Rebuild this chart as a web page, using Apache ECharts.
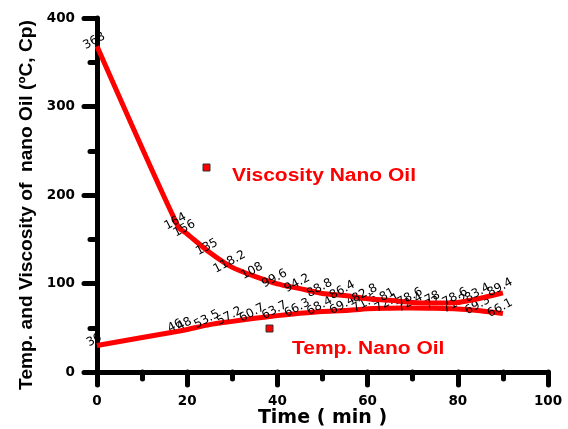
<!DOCTYPE html>
<html>
<head>
<meta charset="utf-8">
<script src="https://cdn.jsdelivr.net/npm/echarts@6/dist/echarts.min.js"></script>
<style>
  html, body { margin: 0; padding: 0; background: #fff; }
  #chart { width: 568px; height: 429px; }
</style>
</head>
<body>
<div id="chart"></div>
<script>
// Sampling times (min)
const times = [0, 18, 20, 25, 30, 35, 40, 45, 50, 55, 60, 65, 70, 75, 80, 85, 90];
// Viscosity of the nano oil (Cp)
const viscosity = [368, 164, 156, 135, 118.2, 108, 99.6, 94.2, 88.8, 86.4, 82.8, 81, 78.6, 78, 78.6, 83.4, 89.4];
// Temperature of the nano oil (ºC)
const temperature = [30, 46, 48, 53.5, 57.2, 60.7, 63.7, 66.3, 68.4, 69.4, 71.6, 72.1, 72.4, 72.0, 71.2, 69.3, 66.1];

const xTicks = [0, 20, 40, 60, 80, 100];
const yTicks = [0, 100, 200, 300, 400];

const FONT = '"Liberation Sans", Arial, sans-serif';
const WIDE = '"DejaVu Sans", "Liberation Sans", sans-serif';
const RED = '#ff0000';

function pairs(xs, ys) { return xs.map((x, i) => [x, ys[i]]); }

const valueLabel = {
  show: true,
  position: 'inside',
  offset: [0, -6],
  rotate: 28,
  color: '#000',
  fontFamily: WIDE,
  fontSize: 12,
  formatter: p => String(p.value[1])
};

const chart = echarts.init(document.getElementById('chart'), null, { renderer: 'canvas' });

const axisCommon = {
  axisLine: { show: true, lineStyle: { color: '#000', width: 5 } },
  axisTick: { show: true, length: 13, lineStyle: { color: '#000', width: 5, cap: 'round' } },
  minorTick: { show: true, splitNumber: 2, length: 7, lineStyle: { color: '#000', width: 5, cap: 'round' } },
  splitLine: { show: false },
  axisLabel: { color: '#000', fontFamily: WIDE, fontSize: 13.5, fontWeight: 'bold' },
  nameMoveOverlap: false
};

chart.setOption({
  animation: false,
  backgroundColor: '#fff',
  grid: { left: 97, right: 20, top: 18, bottom: 57, containLabel: false, outerBoundsMode: 'none' },
  xAxis: Object.assign({}, axisCommon, {
    type: 'value',
    min: xTicks[0],
    max: xTicks[xTicks.length - 1],
    interval: xTicks[1] - xTicks[0],
    name: 'Time ( min )',
    nameLocation: 'middle',
    nameGap: 37,
    nameTextStyle: { color: '#000', fontFamily: WIDE, fontSize: 19, fontWeight: 'bold' },
    axisLabel: Object.assign({}, axisCommon.axisLabel, { margin: 22 })
  }),
  yAxis: Object.assign({}, axisCommon, {
    type: 'value',
    min: yTicks[0],
    max: yTicks[yTicks.length - 1],
    interval: yTicks[1] - yTicks[0],
    name: 'Temp. and Viscosity of  nano Oil (ºC, Cp)',
    nameLocation: 'middle',
    nameGap: 61,
    nameTextStyle: { color: '#000', fontFamily: FONT, fontSize: 19.2, fontWeight: 'bold',
                     padding: [0, 20, 0, 0] },
    axisLabel: Object.assign({}, axisCommon.axisLabel, { margin: 22 })
  }),
  series: [
    {
      name: 'Viscosity Nano Oil',
      type: 'line',
      data: pairs(times, viscosity),
      smooth: 0.25,
      symbol: 'circle',
      symbolSize: 0.1,
      itemStyle: { color: RED },
      lineStyle: { color: RED, width: 5 },
      label: valueLabel,
      z: 3
    },
    {
      name: 'Temp. Nano Oil',
      type: 'line',
      data: pairs(times, temperature),
      smooth: 0.25,
      symbol: 'circle',
      symbolSize: 0.1,
      itemStyle: { color: RED },
      lineStyle: { color: RED, width: 5 },
      label: valueLabel,
      z: 2
    }
  ],
  // Series keys drawn inside the plot area
  graphic: [
    { type: 'rect', x: 203, y: 164, shape: { width: 7, height: 7 },
      style: { fill: RED, stroke: '#333', lineWidth: 1 } },
    { type: 'text', x: 232, y: 176, scaleX: 1.2,
      style: { text: 'Viscosity Nano Oil', fill: RED, font: 'bold 17.5px ' + FONT,
               textAlign: 'left', textVerticalAlign: 'middle' } },
    { type: 'rect', x: 266, y: 325, shape: { width: 7, height: 7 },
      style: { fill: RED, stroke: '#333', lineWidth: 1 } },
    { type: 'text', x: 292, y: 349, scaleX: 1.2,
      style: { text: 'Temp. Nano Oil', fill: RED, font: 'bold 17.5px ' + FONT,
               textAlign: 'left', textVerticalAlign: 'middle' } }
  ]
});
</script>
</body>
</html>
